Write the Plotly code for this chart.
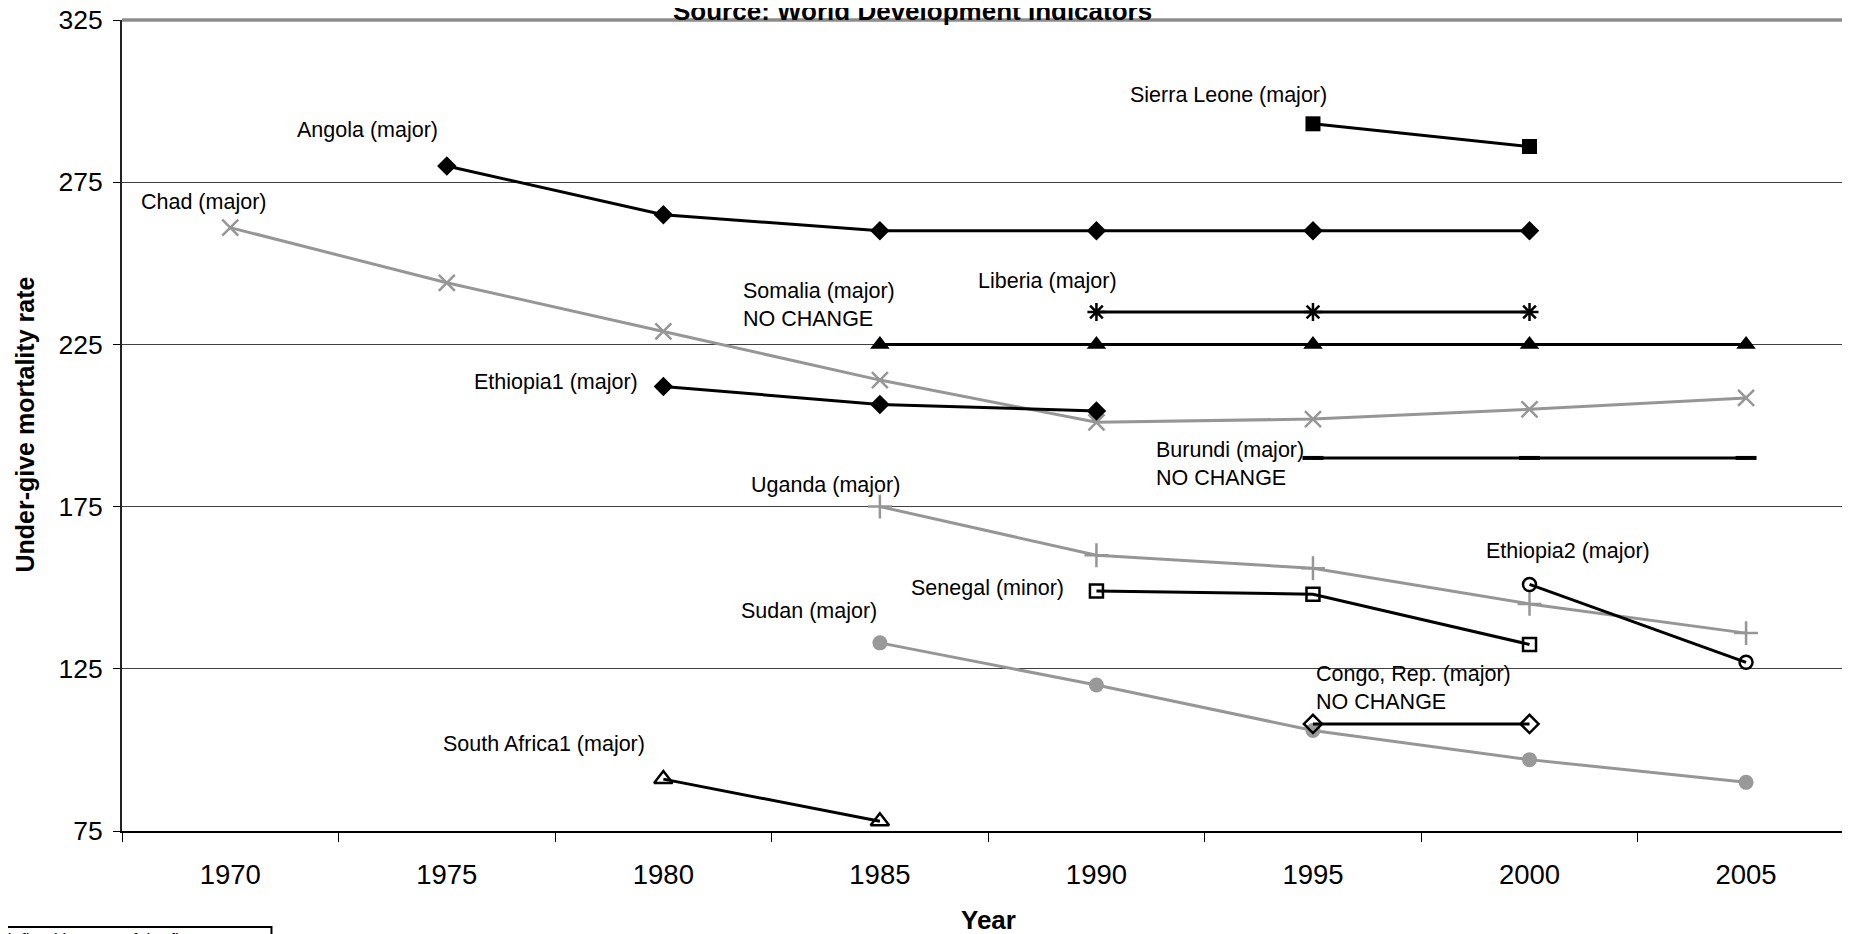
import plotly.graph_objects as go

# ---- data ----
angola_years = [1975, 1980, 1985, 1990, 1995, 2000]
angola_vals = [280, 265, 260, 260, 260, 260]

chad_years = [1970, 1975, 1980, 1985, 1990, 1995, 2000, 2005]
chad_vals = [261, 244, 229, 214, 201, 202, 205, 208.5]

sierra_years = [1995, 2000]
sierra_vals = [293, 286]

liberia_years = [1990, 1995, 2000]
liberia_vals = [235, 235, 235]

somalia_years = [1985, 1990, 1995, 2000, 2005]
somalia_vals = [225, 225, 225, 225, 225]

ethiopia1_years = [1980, 1985, 1990]
ethiopia1_vals = [212, 206.5, 204.5]

burundi_years = [1995, 2000, 2005]
burundi_vals = [190, 190, 190]

uganda_years = [1985, 1990, 1995, 2000, 2005]
uganda_vals = [175, 160, 156, 145, 136]

senegal_years = [1990, 1995, 2000]
senegal_vals = [149, 148, 132.5]

ethiopia2_years = [2000, 2005]
ethiopia2_vals = [151, 127]

sudan_years = [1985, 1990, 1995, 2000, 2005]
sudan_vals = [133, 120, 106, 97, 90]

congo_years = [1995, 2000]
congo_vals = [108, 108]

safrica_years = [1980, 1985]
safrica_vals = [91, 78]

year_ticks = [1970, 1975, 1980, 1985, 1990, 1995, 2000, 2005]
y_ticks = [75, 125, 175, 225, 275, 325]

# label texts and their positions (data coords)
labels = [
    ("Sierra Leone (major)", 1993.04, 302, "center"),
    ("Angola (major)", 1973.18, 291.2, "center"),
    ("Chad (major)", 1969.39, 269, "center"),
    ("Somalia (major)<br>NO CHANGE", 1981.8, 237.3, "left"),
    ("Liberia (major)", 1988.88, 244.6, "center"),
    ("Ethiopia1 (major)", 1977.51, 213.3, "center"),
    ("Burundi (major)<br>NO CHANGE", 1991.33, 188.2, "left"),
    ("Uganda (major)", 1983.74, 181.6, "center"),
    ("Ethiopia2 (major)", 2000.89, 161.2, "center"),
    ("Senegal (minor)", 1987.48, 150, "center"),
    ("Sudan (major)", 1983.36, 142.7, "center"),
    ("Congo, Rep. (major)<br>NO CHANGE", 1995.03, 119, "left"),
    ("South Africa1 (major)", 1977.24, 101.9, "center"),
]

FONT = "Liberation Sans, Arial, sans-serif"
BLACK = "#000000"
GRAY = "#969696"

fig = go.Figure()

def add(xs, ys, color, symbol, size, mline=None, lw=3, mcolor=None):
    marker = dict(symbol=symbol, size=size, color=mcolor or color)
    if mline is not None:
        marker["line"] = dict(color=color, width=mline)
    fig.add_trace(go.Scatter(x=xs, y=ys, mode="lines+markers",
                             line=dict(color=color, width=lw),
                             marker=marker, showlegend=False,
                             cliponaxis=False))

add(chad_years, chad_vals, GRAY, "x-thin-open", 16, mline=2.5)
add(uganda_years, uganda_vals, GRAY, "cross-thin-open", 17, mline=2.5)
add(sudan_years, sudan_vals, GRAY, "circle", 15, mcolor="#999999")
add(angola_years, angola_vals, BLACK, "diamond", 15)
add(sierra_years, sierra_vals, BLACK, "square", 15)
add(liberia_years, liberia_vals, BLACK, "asterisk-open", 15, mline=2.5)
add(somalia_years, somalia_vals, BLACK, "triangle-up", 17)
add(ethiopia1_years, ethiopia1_vals, BLACK, "diamond", 15)
add(burundi_years, burundi_vals, BLACK, "line-ew-open", 15, mline=4)
add(senegal_years, senegal_vals, BLACK, "square-open", 13, mline=2.5)
add(ethiopia2_years, ethiopia2_vals, BLACK, "circle-open", 13, mline=2.5)
add(congo_years, congo_vals, BLACK, "diamond-open", 14, mline=2.5)
add(safrica_years, safrica_vals, BLACK, "triangle-up-open", 16, mline=2.5)

for text, x, y, align in labels:
    fig.add_annotation(x=x, y=y, xref="x", yref="y", text=text, showarrow=False,
                       xanchor=align, yanchor="middle", align="left",
                       font=dict(family=FONT, size=21.5, color="black"))

# top border line (at the 325 gridline)
fig.add_shape(type="line", xref="paper", yref="paper", x0=0, x1=1, y0=1, y1=1,
              line=dict(color="#8c8c8c", width=3.5), layer="above")

# title (cut at top)
fig.add_annotation(xref="paper", yref="paper", x=0.4573, y=1.0115,
                   text="<b>Source: World Development Indicators</b>", showarrow=False,
                   xanchor="center", yanchor="middle",
                   font=dict(family=FONT, size=26, color="black"))
# axis titles
fig.add_annotation(xref="paper", yref="paper", x=-0.0564, y=0.5006,
                   text="<b>Under-give mortality rate</b>", showarrow=False, textangle=-90,
                   xanchor="center", yanchor="middle",
                   font=dict(family=FONT, size=25, color="black"))
fig.add_annotation(xref="paper", yref="paper", x=0.5013, y=-0.1097,
                   text="<b>Year</b>", showarrow=False,
                   xanchor="center", yanchor="middle",
                   font=dict(family=FONT, size=26, color="black"))

# cut-off note box at bottom left
fig.add_shape(type="rect", xref="paper", yref="paper", x0=-0.08, x1=0.0865,
              y0=-0.16, y1=-0.1184, line=dict(color="black", width=2), fillcolor="white")
fig.add_annotation(xref="paper", yref="paper", x=-0.0705, y=-0.1335,
                   text="defined by year of the first", showarrow=False,
                   xanchor="left", yanchor="middle",
                   font=dict(family=FONT, size=17, color="black"))

# the page body adds an 8px offset; margins compensate for it
fig.update_layout(
    width=1850, height=934,
    margin=dict(l=113.5, r=8, t=12, b=111, autoexpand=False),
    paper_bgcolor="white", plot_bgcolor="white",
    font=dict(family=FONT, color="black"),
    xaxis=dict(range=[1967.5, 2007.4], tickvals=year_ticks,
               ticktext=[str(v) for v in year_ticks], ticks="",
               ticklabelstandoff=18, automargin=False, ticklabeloverflow="allow",
               tickfont=dict(family=FONT, size=27.5, color="black"),
               showgrid=False, zeroline=False, showline=True,
               linecolor="black", linewidth=2,
               minor=dict(tickvals=[1967.5 + 5 * k for k in range(9)],
                          ticks="outside", ticklen=9, tickcolor="black",
                          tickwidth=1, showgrid=False)),
    yaxis=dict(range=[75, 325.001], tickvals=y_ticks, ticks="outside", ticklen=7,
               tickcolor="black", ticklabelstandoff=5, automargin=False,
               ticklabeloverflow="allow",
               tickfont=dict(family=FONT, size=26.5, color="black"),
               showgrid=True, gridcolor="#404040", gridwidth=1,
               zeroline=False, showline=True, linecolor="#222222", linewidth=2),
)

fig.write_html("out.html")
